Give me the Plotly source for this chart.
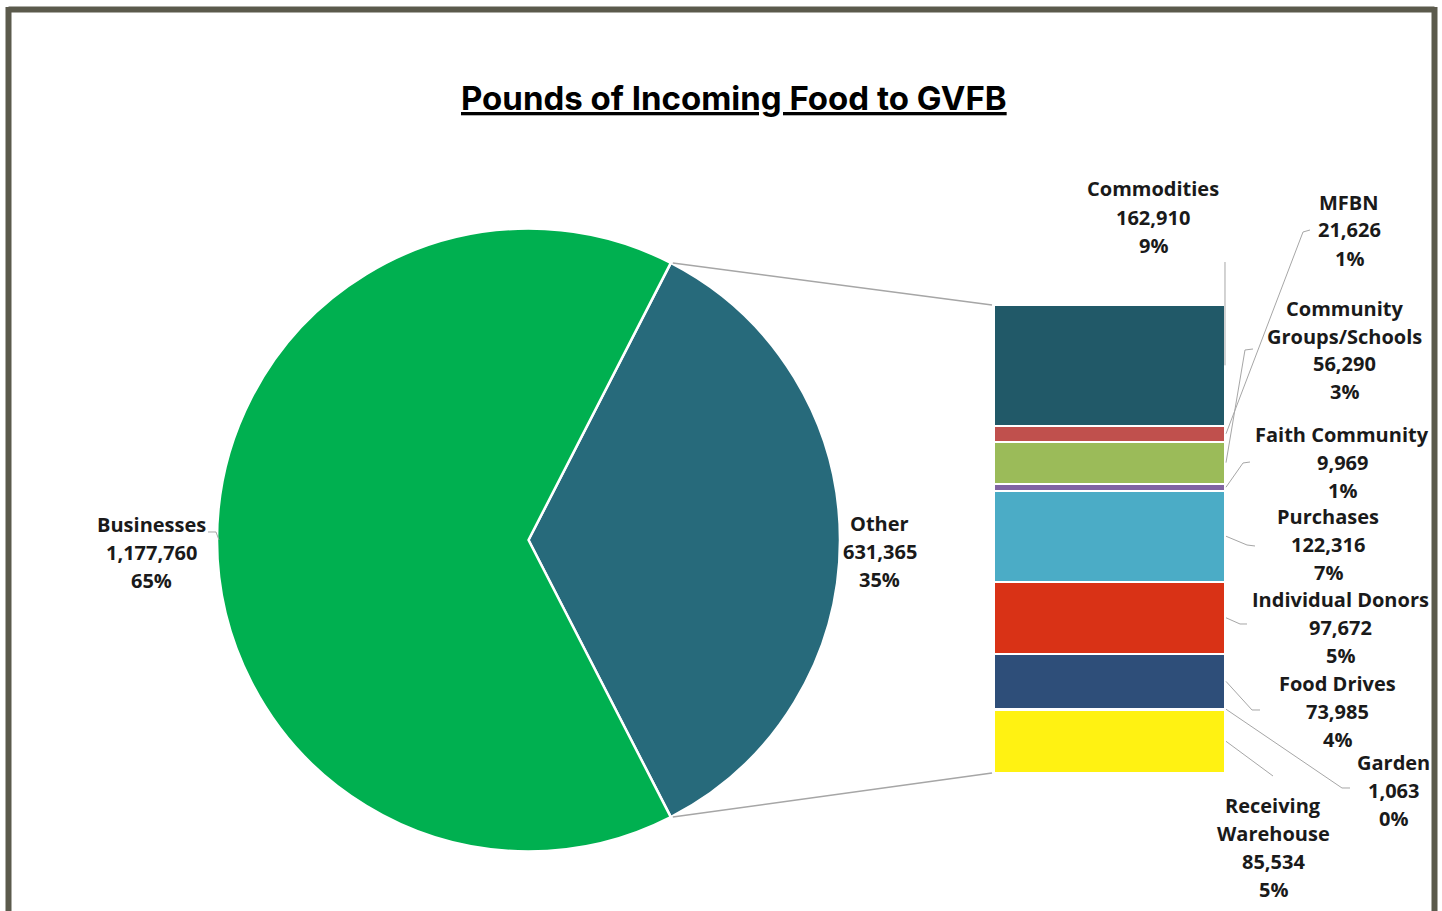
import math
import plotly.graph_objects as go

W, H = 1442, 911

# ---------------- data ----------------
pie_labels = ["Other", "Businesses"]
pie_values = [631365, 1177760]
pie_colors = ["#276A7B", "#00B050"]

bar_labels = ["Receiving<br>Warehouse", "Garden", "Food Drives", "Individual Donors",
              "Purchases", "Faith Community", "Community<br>Groups/Schools", "MFBN",
              "Commodities"]
bar_values = [85534, 1063, 73985, 97672, 122316, 9969, 56290, 21626, 162910]
bar_colors = ["#FFF212", "#70AD47", "#2E4E79", "#D93216", "#4BACC6", "#8064A2",
              "#9BBB59", "#C0504D", "#215968"]

title_text = "Pounds of Incoming Food to GVFB"

# ---------------- layout helpers (pixel -> paper) ----------------
def px(x):
    return x / W

def py(y):
    return 1 - y / H

total = sum(pie_values)
other_total = pie_values[0]

# pie geometry
CX, CY, R = 528.5, 540, 311.5
# bar geometry
BX0, BX1, BY0, BY1 = 994, 1225, 305, 773

FONT = "Open Sans"
TXT = "#1A1A1A"
LINE = "#A6A6A6"
LSP = 28  # label line spacing in px

fig = go.Figure()

frac_other = other_total / total
fig.add_trace(go.Pie(
    labels=pie_labels, values=pie_values, sort=False, direction="clockwise",
    rotation=90 - frac_other * 180,
    marker=dict(colors=pie_colors, line=dict(color="white", width=2.5)),
    textinfo="none", hoverinfo="label+value+percent",
    domain=dict(x=[px(CX - R), px(CX + R)], y=[py(CY + R), py(CY - R)]),
    showlegend=False,
))

for lab, val, col in zip(bar_labels, bar_values, bar_colors):
    fig.add_trace(go.Bar(
        x=[0], y=[val], width=[1], name=lab.replace("<br>", " "),
        marker=dict(color=col, line=dict(color="white", width=2)),
        xaxis="x", yaxis="y", showlegend=False,
    ))

def bar_y(v):
    # value -> pixel y on bar axis
    return BY1 - (BY1 - BY0) * v / other_total

annotations = []
shapes = []

# title
annotations.append(dict(
    text=f"<b><u>{title_text}</u></b>", x=px(734), y=py(98), xref="paper", yref="paper",
    showarrow=False, xanchor="center", yanchor="middle",
    font=dict(family="Inter", size=33, color="#000000"),
))

def add_label(label, val, x, y_center):
    lines = label.split("<br>") + [f"{val:,}", f"{round(100 * val / total)}%"]
    n = len(lines)
    for i, t in enumerate(lines):
        yy = y_center + (i - (n - 1) / 2) * LSP
        annotations.append(dict(
            text=f"<b>{t}</b>", x=px(x), y=py(yy), xref="paper", yref="paper",
            showarrow=False, xanchor="center", yanchor="middle",
            font=dict(family=FONT, size=20, color=TXT),
        ))

# pie labels
pie_label_pos = {"Businesses": (151, 552), "Other": (880, 551)}
for lab, val in zip(pie_labels, pie_values):
    x, y = pie_label_pos[lab]
    add_label(lab, val, x, y)

# bar labels (centre x, centre y) and leader line points (bar end added from data)
bar_label_pos = [(1273, 847), (1393, 790), (1337, 711), (1340, 627), (1328, 544),
                 (1342, 462), (1344, 350), (1349, 230), (1153, 217)]
leader_pts = [
    [(1273, 776)],
    [(1342, 788), (1350, 788)],
    [(1252, 710), (1260, 710)],
    [(1240, 624), (1247, 624)],
    [(1247, 545), (1255, 546)],
    [(1243, 463), (1250, 462)],
    [(1245, 350), (1253, 349)],
    [(1303, 232), (1310, 230)],
    [(1225, 262)],
]

cum = 0
for lab, val, (x, y), pts in zip(bar_labels, bar_values, bar_label_pos, leader_pts):
    mid = bar_y(cum + val / 2)
    cum += val
    add_label(lab, val, x, y)
    start_x = 1225 if (len(pts) == 1 and pts[0][0] == 1225) else 1226
    path_pts = [(start_x, mid)] + pts
    d = "M " + " L ".join(f"{px(a):.5f},{py(b):.5f}" for a, b in path_pts)
    shapes.append(dict(type="path", path=d, xref="paper", yref="paper",
                       line=dict(color=LINE, width=1)))

# Businesses leader
d = "M " + " L ".join(f"{px(a):.5f},{py(b):.5f}" for a, b in [(208, 532), (216, 532), (219, 540)])
shapes.append(dict(type="path", path=d, xref="paper", yref="paper", line=dict(color=LINE, width=1)))

# connector lines from pie to bar
half = math.pi * frac_other
for sgn, by in ((1, BY0), (-1, BY1)):
    x0 = CX + R * math.cos(half)
    y0 = CY - sgn * R * math.sin(half)
    shapes.append(dict(type="line", xref="paper", yref="paper",
                       x0=px(x0 + 2), y0=py(y0), x1=px(BX0 - 2), y1=py(by),
                       line=dict(color=LINE, width=1.5)))

# frame
FR = "#5B5A4C"
for x0, y0, x1, y1 in [(8.5, 9.5, 1434.5, 9.5), (8.5, 7, 8.5, 930), (1434.5, 7, 1434.5, 930)]:
    shapes.append(dict(type="line", xref="paper", yref="paper",
                       x0=px(x0), y0=py(y0), x1=px(x1), y1=py(y1),
                       line=dict(color=FR, width=6)))

fig.update_layout(
    width=W, height=H, margin=dict(l=0, r=0, t=0, b=0),
    paper_bgcolor="white", plot_bgcolor="rgba(0,0,0,0)",
    barmode="stack", bargap=0,
    xaxis=dict(domain=[px(BX0), px(BX1)], range=[-0.5, 0.5], visible=False, fixedrange=True),
    yaxis=dict(domain=[py(BY1), py(BY0)], range=[0, other_total], visible=False, fixedrange=True),
    annotations=annotations, shapes=shapes, showlegend=False,
)

fig.write_html("out.html")
